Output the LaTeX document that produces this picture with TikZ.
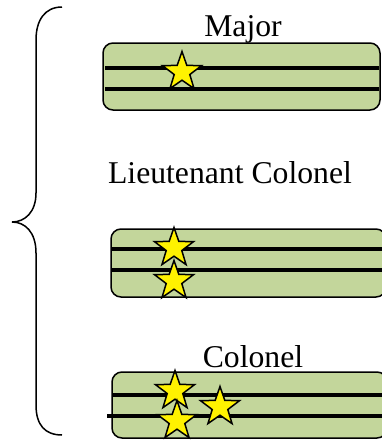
\documentclass[tikz,border=0pt]{standalone}
\usepackage{fontspec}
\setmainfont{Liberation Serif}
\usetikzlibrary{shapes.geometric}

\begin{document}
\begin{tikzpicture} [x=1pt, y=-1pt, rank/.style={font=\fontsize{31.7}{38}\selectfont, anchor=base, inner sep=0pt}, strap/.style={rectangle, rounded corners=10pt, draw, line width=1.5pt, fill=strapgreen, inner sep=0pt}, bar/.style={line width=4pt}, pip/.style={star, star points=5, star point ratio=2.5, draw, line width=1.5pt, fill=yellow, inner sep=0pt, minimum size=41pt}]
\definecolor{strapgreen}{HTML}{C3D69B}
\useasboundingbox (0,0) rectangle (382,440);
  % Brace
  \draw [line width=1.5pt] (62,7) .. controls (45,7) and (36,20) .. (36,40) -- (36,193) .. controls (36,212) and (25,222) .. (12,222) .. controls (25,222) and (36,232) .. (36,253) -- (36,405) .. controls (36,425) and (45,435) .. (62,435);
  % Major
  \node [rank] (major) at (243,36) {Major};
  \node [strap, minimum width=277pt, minimum height=67pt] (majorstrap) at (241.5,76.5) {};
  \draw [bar] (105,68) -- (379,68);
  \draw [bar] (105,89) -- (379,89);
  \node [pip] (majorpip) at (182,72) {};
  % Lieutenant Colonel
  \node [rank] (ltcol) at (230,183) {Lieutenant Colonel};
  \node [strap, minimum width=275pt, minimum height=68pt] (ltcolstrap) at (248.5,263) {};
  \draw [bar] (111,249) -- (386,249);
  \draw [bar] (111,270) -- (386,270);
  \node [pip] (ltcolpipa) at (174,248) {};
  \node [pip] (ltcolpipb) at (174,281) {};
  % Colonel
  \node [rank] (col) at (253,367) {Colonel};
  \node [strap, minimum width=275pt, minimum height=66pt] (colstrap) at (249.5,405) {};
  \draw [bar] (112,395) -- (386,395);
  \draw [bar] (107,416) -- (386,416);
  \node [pip] (colpipa) at (175,391) {};
  \node [pip] (colpipb) at (177,421) {};
  \node [pip] (colpipc) at (220,407) {};
\end{tikzpicture}
\end{document}
